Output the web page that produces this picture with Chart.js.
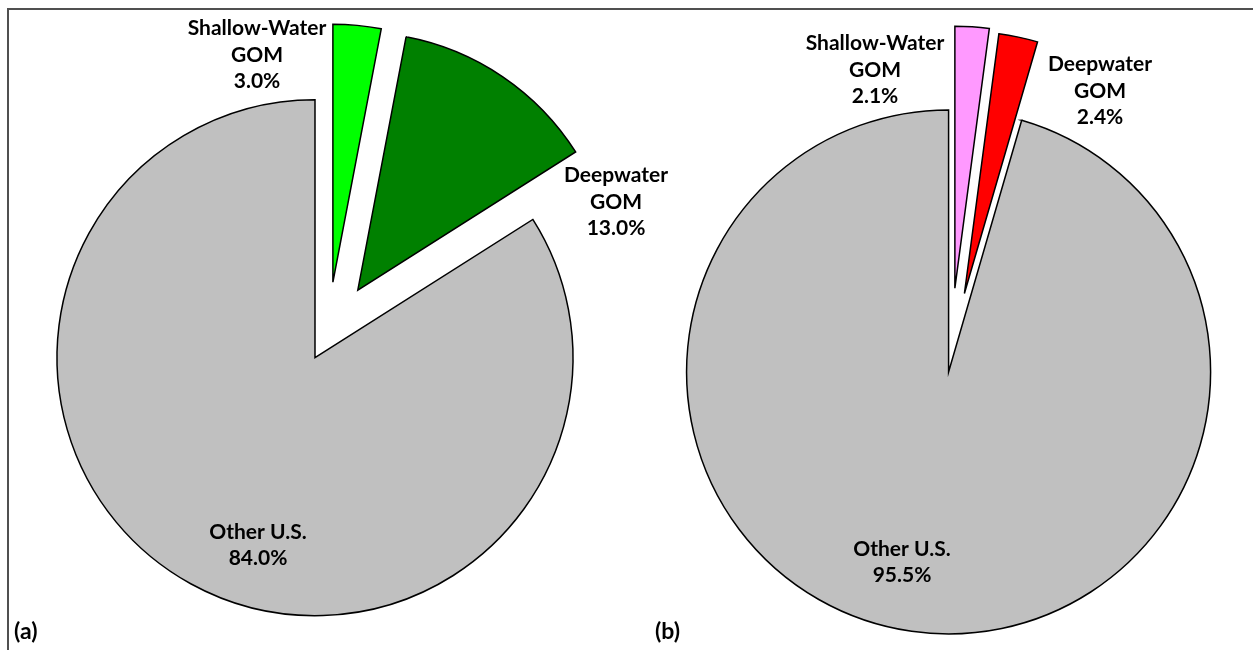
<!DOCTYPE html>
<html>
<head>
<meta charset="utf-8">
<title>GOM share of U.S. totals</title>
<script src="https://cdn.jsdelivr.net/npm/chart.js@4.4.1/dist/chart.umd.min.js"></script>
<style>
  html, body { margin: 0; padding: 0; background: #fff; overflow: hidden; }
  body { position: relative; width: 1253px; height: 650px; font-family: Lato, "Liberation Sans", sans-serif; }
  .frame { position: absolute; left: 7px; top: 8px; width: 1400px; height: 800px;
           border-left: 2px solid #505050; border-top: 2px solid #505050; }
  canvas { position: absolute; top: 0; }
  #pieA { left: 0; }
  #pieB { left: 640px; }
  .tag { position: absolute; font-weight: 700; font-size: 23px; line-height: 1; color: #000; }
</style>
</head>
<body>
<div class="frame"></div>
<canvas id="pieA" width="700" height="650"></canvas>
<canvas id="pieB" width="613" height="650"></canvas>
<div class="tag" style="left:14px; top:619px;">(a)</div>
<div class="tag" style="left:655px; top:619px;">(b)</div>
<script>
// slice names, one entry per wrapped line
const categories = [['Shallow-Water', 'GOM'], ['Deepwater', 'GOM'], ['Other U.S.']];
// percent shares
const sharesA = [3.0, 13.0, 84.0];
const sharesB = [2.1, 2.4, 95.5];

const colorsA = ['#00ff00', '#008000', '#c0c0c0'];
const colorsB = ['#ff99ff', '#ff0000', '#c0c0c0'];

const LINE_H = 26.5;
const LABEL_FONT = 'bold 21px Lato, "Liberation Sans", sans-serif';

// pull slices out along their bisector without the angle/radius changes
// that the built-in arc offset applies
const explodeSlices = {
  id: 'explodeSlices',
  afterDatasetUpdate(chart, args, opts) {
    args.meta.data.forEach((arc, i) => {
      const d = opts.distance[i] || 0;
      const mid = (arc.startAngle + arc.endAngle) / 2;
      arc.x += Math.cos(mid) * d;
      arc.y += Math.sin(mid) * d;
    });
  }
};

// name + percentage text, placed relative to the pie centre
const sliceLabels = {
  id: 'sliceLabels',
  afterDatasetsDraw(chart, args, opts) {
    const { ctx, chartArea } = chart;
    const cx = (chartArea.left + chartArea.right) / 2;
    const cy = (chartArea.top + chartArea.bottom) / 2;
    const values = chart.data.datasets[0].data;
    ctx.save();
    ctx.font = LABEL_FONT;
    ctx.fillStyle = '#000';
    ctx.textAlign = 'center';
    ctx.textBaseline = 'middle';
    chart.data.labels.forEach((name, i) => {
      const lines = [].concat(name, values[i].toFixed(1) + '%');
      const [dx, dy] = opts.spots[i];
      const top = cy + dy - (lines.length - 1) * LINE_H / 2;
      lines.forEach((txt, k) => ctx.fillText(txt, cx + dx, top + k * LINE_H));
    });
    ctx.restore();
  }
};

function makePie(id, values, colors, radius, explode, padding, spots) {
  return new Chart(document.getElementById(id), {
    type: 'pie',
    data: {
      labels: categories,
      datasets: [{
        data: values,
        backgroundColor: colors,
        borderColor: '#000',
        borderWidth: 1.5,
        borderJoinStyle: 'miter',
        hoverOffset: 0
      }]
    },
    options: {
      responsive: false,
      animation: false,
      events: [],
      radius: radius,
      layout: { padding: padding },
      plugins: {
        legend: { display: false },
        tooltip: { enabled: false },
        explodeSlices: { distance: explode },
        sliceLabels: { spots: spots }
      }
    },
    plugins: [explodeSlices, sliceLabels]
  });
}

makePie('pieA', sharesA, colorsA, 258, [52, 53, 27],
  { left: 0, right: 44, top: 18, bottom: 0 },
  [[-71, -279], [288, -132], [-70, 211]]);

makePie('pieB', sharesB, colorsB, 262, [74, 70, 10],
  { left: 7, right: 0, top: 74, bottom: 0 },
  [[-75, -292], [150, -271], [-48, 200]]);
</script>
</body>
</html>
